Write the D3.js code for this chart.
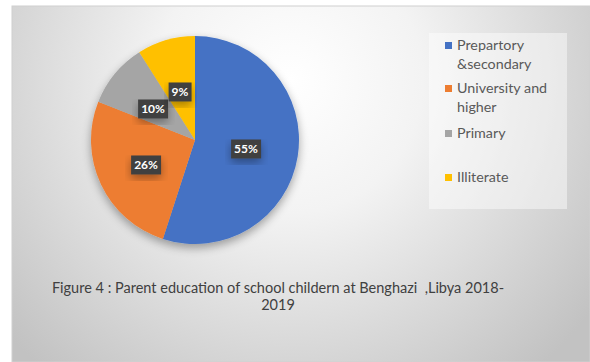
<!DOCTYPE html>
<html><head><meta charset="utf-8">
<script src="https://cdn.jsdelivr.net/npm/d3@7"></script>
<style>html,body{margin:0;padding:0;background:#fff;}svg{display:block;}text{white-space:pre;}</style>
</head><body>
<svg id="c" width="590" height="362"></svg>
<script>
const categories = ["Prepartory &secondary", "University and higher", "Primary", "Illiterate"];
const legendLines = [["Prepartory", "&secondary"], ["University and", "higher"], ["Primary"], ["Illiterate"]];
const values = [55, 26, 10, 9];
const labels = ["55%", "26%", "10%", "9%"];
const colors = ["#4472C4", "#ED7D31", "#A5A5A5", "#FFC000"];
const captionLines = ["Figure 4 : Parent education of school childern at Benghazi  ,Libya 2018-", "2019"];

const svg = d3.select("#c");
const defs = svg.append("defs");
const rg = defs.append("radialGradient").attr("id","bg").attr("gradientUnits","userSpaceOnUse")
  .attr("cx",290).attr("cy",80).attr("r",380);
rg.append("stop").attr("offset","0%").attr("stop-color","#ffffff");
rg.append("stop").attr("offset","35%").attr("stop-color","#f3f3f3");
rg.append("stop").attr("offset","100%").attr("stop-color","#c2c2c2");
const sh = defs.append("filter").attr("id","sh").attr("x","-20%").attr("y","-20%").attr("width","140%").attr("height","150%");
sh.append("feGaussianBlur").attr("in","SourceAlpha").attr("stdDeviation",5);
sh.append("feOffset").attr("dx",0).attr("dy",4).attr("result","b");
sh.append("feComponentTransfer").append("feFuncA").attr("type","linear").attr("slope",0.35);
const m = sh.append("feMerge"); m.append("feMergeNode"); m.append("feMergeNode").attr("in","SourceGraphic");

svg.append("rect").attr("x",12).attr("y",6).attr("width",578).attr("height",356)
  .attr("fill","url(#bg)").attr("stroke","#d0d0d0").attr("stroke-width",1);

const cx = 195, cy = 140, r = 104;
const pie = d3.pie().sort(null).value(d => d)(values);
const arc = d3.arc().innerRadius(0).outerRadius(r);
const g = svg.append("g").attr("transform",`translate(${cx},${cy})`);
const pg = g.append("g").attr("filter","url(#sh)");
pg.selectAll("path").data(pie).join("path").attr("d",arc).attr("fill",(d,i)=>colors[i]);

const labelPos = [[51,9],[-49,25],[-42,-31],[-15,-48]];
const lg = g.append("g");
pie.forEach((d,i)=>{
  const [x,y] = labelPos[i];
  const t = lg.append("text").attr("x",x).attr("y",y).attr("text-anchor","middle").attr("dy","0.35em")
    .attr("font-family","Lato, 'Open Sans', sans-serif").attr("font-weight","bold").attr("font-size",12)
    .attr("fill","#fff").text(labels[i]);
  const bb = t.node().getBBox();
  lg.insert("rect","text").attr("x",bb.x-3).attr("y",y-9.5).attr("width",bb.width+6).attr("height",19)
    .attr("fill","#404040").attr("filter","url(#sh)");
});

// legend
svg.append("rect").attr("x",429).attr("y",33).attr("width",138).attr("height",176).attr("fill","#ffffff").attr("opacity",0.45);
const legY = [45, 88, 133, 177];
const leg = svg.append("g").attr("font-family","Lato, 'Open Sans', sans-serif").attr("font-size",14.3).attr("fill","#595959");
categories.forEach((c,i)=>{
  leg.append("rect").attr("x",445).attr("y",legY[i]-3).attr("width",7).attr("height",7).attr("fill",colors[i]);
  legendLines[i].forEach((ln,j)=>{
    leg.append("text").attr("x",457).attr("y",legY[i]+j*19).attr("dy","0.35em").text(ln);
  });
});

const cap = svg.append("g").attr("font-family","Lato, 'Open Sans', sans-serif").attr("font-size",14.5).attr("fill","#404040").attr("text-anchor","middle");
captionLines.forEach((t,i)=>{
  cap.append("text").attr("x",278).attr("y",288+i*17).attr("dy","0.35em").text(t);
});
</script>
</body></html>
